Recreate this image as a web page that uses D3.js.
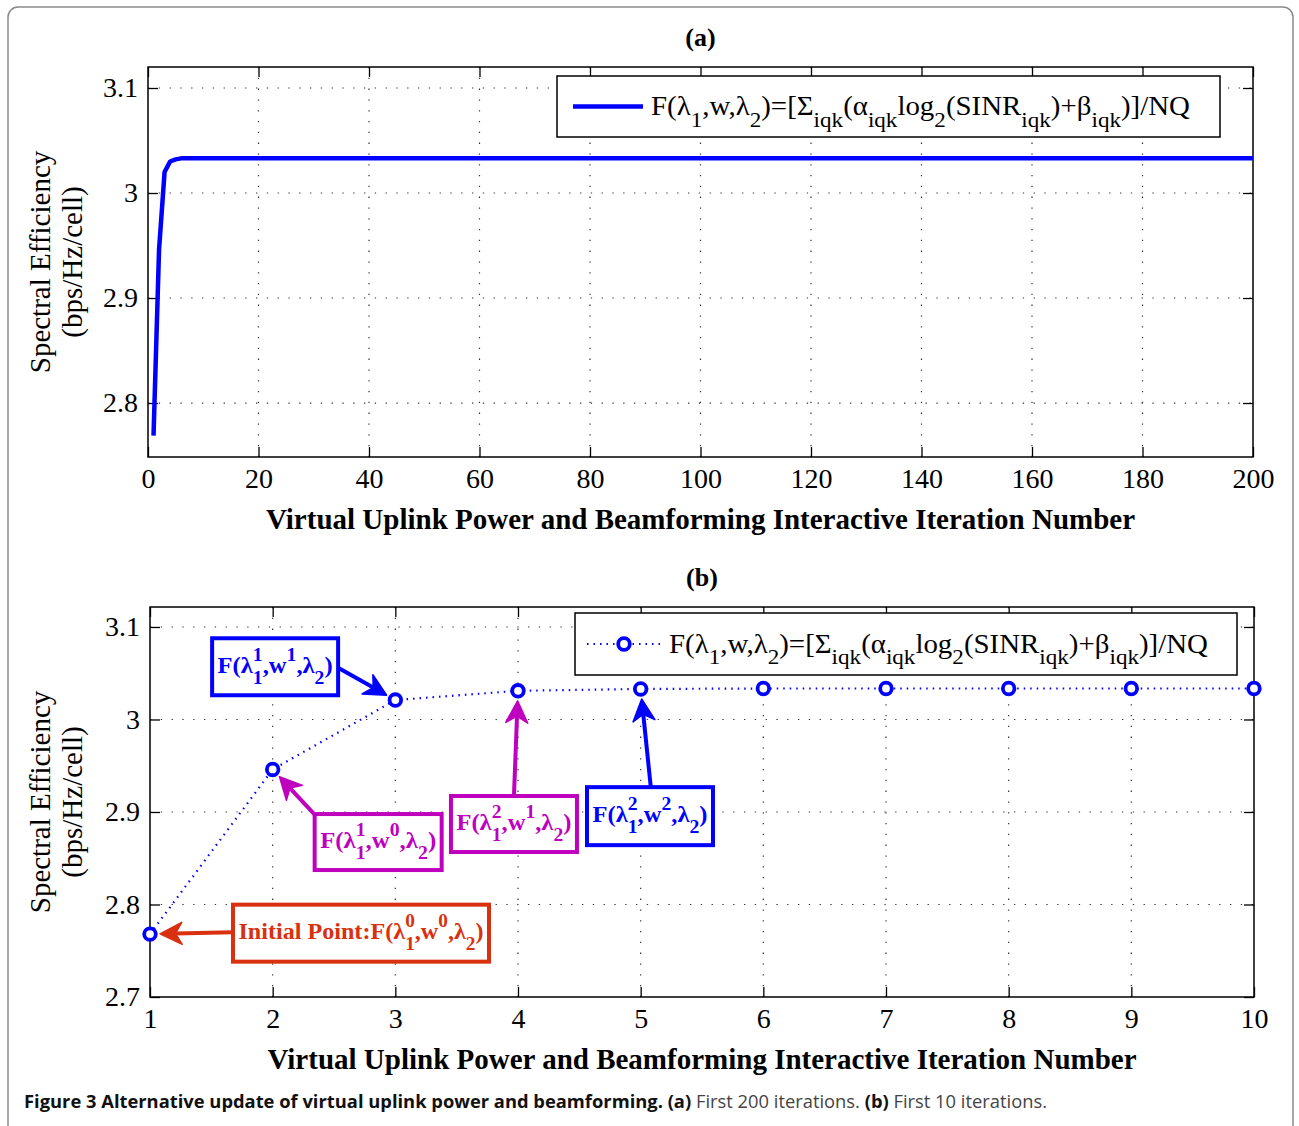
<!DOCTYPE html>
<html>
<head>
<meta charset="utf-8">
<script src="https://cdn.jsdelivr.net/npm/d3@7"></script>
<style>
  body { margin: 0; background: #fff; }
  svg { display: block; }
</style>
</head>
<body>
<div id="chart"></div>
<script>
// ---- data ----
const iterA = [1, 2, 3, 4, 5, 6, 200];
const seA = [2.769, 2.946, 3.020, 3.030, 3.032, 3.033, 3.033];
const xTicksA = [0, 20, 40, 60, 80, 100, 120, 140, 160, 180, 200];
const yTicksA = [2.8, 2.9, 3, 3.1];

const iterB = [1, 2, 3, 4, 5, 6, 7, 8, 9, 10];
const seB = [2.768, 2.946, 3.021, 3.031, 3.033, 3.0335, 3.0335, 3.0335, 3.0335, 3.0335];
const xTicksB = [1, 2, 3, 4, 5, 6, 7, 8, 9, 10];
const yTicksB = [2.7, 2.8, 2.9, 3, 3.1];

const xTitle = "Virtual Uplink Power and Beamforming Interactive Iteration Number";
const yTitle = ["Spectral Efficiency", "(bps/Hz/cell)"];

// legend formula, as [text, kind] pieces
const legendSegs = [["F(λ"], ["1", "sub"], [",w,λ"], ["2", "sub"], [")=[Σ"], ["iqk", "sub"], ["(α"], ["iqk", "sub"],
  ["log"], ["2", "sub"], ["(SINR"], ["iqk", "sub"], [")+β"], ["iqk", "sub"], [")]/NQ"]];

// annotations in panel (b): which point they point at
const notes = [
  { color: "#0000ff", target: 2, box: [2.02, 3.057], size: [126, 57],
    segs: [["F(λ"], ["1", "sup"], ["1", "under"], [",w"], ["1", "sup"], [",λ"], ["2", "sub"], [")"]],
    from: [63, 1] },
  { color: "#bf00bf", target: 1, box: [2.86, 2.8675], size: [127, 56],
    segs: [["F(λ"], ["1", "sup"], ["1", "under"], [",w"], ["0", "sup"], [",λ"], ["2", "sub"], [")"]],
    from: [-63, -27] },
  { color: "#bf00bf", target: 3, box: [3.967, 2.887], size: [126, 56],
    segs: [["F(λ"], ["2", "sup"], ["1", "under"], [",w"], ["1", "sup"], [",λ"], ["2", "sub"], [")"]],
    from: [0, -28] },
  { color: "#0000ff", target: 4, box: [5.076, 2.8955], size: [126, 58],
    segs: [["F(λ"], ["2", "sup"], ["1", "under"], [",w"], ["2", "sup"], [",λ"], ["2", "sub"], [")"]],
    from: [1, -27] },
  { color: "#d9300f", target: 0, box: [2.72, 2.769], size: [256, 57],
    segs: [["Initial Point:F(λ"], ["0", "sup"], ["1", "under"], [",w"], ["0", "sup"], [",λ"], ["2", "sub"], [")"]],
    from: [-128, -1] }
];

const W = 1299, H = 1126;
const serif = "Liberation Serif, serif";
const svg = d3.select("#chart").append("svg").attr("width", W).attr("height", H);

// outer frame
svg.append("rect").attr("x", 8).attr("y", 7).attr("width", 1285).attr("height", 1130)
  .attr("rx", 10).attr("fill", "none").attr("stroke", "#8a8a8a").attr("stroke-width", 1.5);

// sequential rich text with sub / superscripts, squeezed or stretched to fit a width
function richText(g, x, y, segs, size, attrs, fitWidth, shifts) {
  const [subDy, supDy] = shifts || [0.42, 0.4];
  const t = g.append("text").attr("x", x).attr("y", y)
    .style("font-family", serif).style("font-size", size + "px");
  Object.entries(attrs || {}).forEach(([k, v]) => t.style(k, v));
  let cx = x, supStart = x, supEnd = x;
  for (const [s, kind] of segs) {
    const small = kind ? size * 0.8 : size;
    let ty = y, tx = cx;
    if (kind === "sub") ty = y + size * subDy;
    if (kind === "sup") { ty = y - size * supDy; supStart = cx; }
    if (kind === "under") { ty = y + size * subDy; tx = supStart; }
    const ts = t.append("tspan").attr("x", tx).attr("y", ty).style("font-size", small + "px").text(s);
    const w = ts.node().getComputedTextLength();
    if (kind === "sup") { supEnd = cx + w; cx += w; }
    else if (kind === "under") { cx = Math.max(supEnd, tx + w); }
    else cx += w;
  }
  let width = cx - x;
  if (fitWidth) {
    t.attr("transform", `translate(${x},0) scale(${fitWidth / width},1) translate(${-x},0)`);
    width = fitWidth;
  }
  return { node: t, width };
}

function panel(cfg) {
  const { left, top, right, bottom } = cfg;
  const g = svg.append("g");
  const x = d3.scaleLinear().domain(cfg.xDomain).range([left, right]);
  const y = d3.scaleLinear().domain(cfg.yDomain).range([bottom, top]);

  // dotted grid
  g.selectAll(".gx").data(cfg.xTicks.filter(d => d !== cfg.xDomain[0] && d !== cfg.xDomain[1])).join("line")
    .attr("x1", d => x(d)).attr("x2", d => x(d)).attr("y1", top).attr("y2", bottom)
    .attr("stroke", "#333").attr("stroke-width", 1.2).attr("stroke-dasharray", "1.3,9.5");
  g.selectAll(".gy").data(cfg.yTicks.filter(d => d > cfg.yDomain[0])).join("line")
    .attr("y1", d => y(d)).attr("y2", d => y(d)).attr("x1", left).attr("x2", right)
    .attr("stroke", "#333").attr("stroke-width", 1.2).attr("stroke-dasharray", "1.3,9.5");

  // axes with inward ticks on all sides
  const axes = [
    g.append("g").attr("transform", `translate(0,${bottom})`)
      .call(d3.axisBottom(x).tickValues(cfg.xTicks).tickSize(-10).tickPadding(11).tickFormat(d3.format(""))),
    g.append("g").attr("transform", `translate(${left},0)`)
      .call(d3.axisLeft(y).tickValues(cfg.yTicks).tickSize(-10).tickPadding(10).tickFormat(d3.format(""))),
    g.append("g").attr("transform", `translate(0,${top})`)
      .call(d3.axisTop(x).tickValues(cfg.xTicks).tickSize(-10).tickFormat("")),
    g.append("g").attr("transform", `translate(${right},0)`)
      .call(d3.axisRight(y).tickValues(cfg.yTicks).tickSize(-10).tickFormat(""))
  ];
  axes.forEach(a => {
    a.select(".domain").remove();
    a.selectAll(".tick line").attr("stroke", "#000").attr("stroke-width", 1.3);
    a.selectAll(".tick text").attr("font-family", serif).attr("font-size", 28).attr("fill", "#000");
  });
  g.append("rect").attr("x", left).attr("y", top).attr("width", right - left).attr("height", bottom - top)
    .attr("fill", "none").attr("stroke", "#000").attr("stroke-width", 1.5);

  // titles
  g.append("text").attr("x", (left + right) / 2).attr("y", top - 21).attr("text-anchor", "middle")
    .style("font-family", serif).style("font-size", "26px").style("font-weight", "bold")
    .text(cfg.title);
  g.append("text").attr("x", (left + right) / 2).attr("y", bottom + 72).attr("text-anchor", "middle")
    .style("font-family", serif).style("font-size", "29px").style("font-weight", "bold")
    .text(xTitle);
  const cy = (top + bottom) / 2;
  yTitle.forEach((s, i) => {
    g.append("text").attr("transform", `translate(${50 + i * 32},${cy}) rotate(-90)`).attr("text-anchor", "middle")
      .style("font-family", serif).style("font-size", "29px").text(s);
  });
  return { g, x, y };
}

// ---- panel (a) ----
const pa = panel({ left: 148, top: 67, right: 1253, bottom: 457, xDomain: [0, 200], yDomain: [2.7486, 3.12],
  xTicks: xTicksA, yTicks: yTicksA, title: "(a)" });
pa.g.append("path").datum(iterA.map((d, i) => [d, seA[i]]))
  .attr("d", d3.line().x(d => pa.x(d[0])).y(d => pa.y(d[1])))
  .attr("fill", "none").attr("stroke", "#0000ff").attr("stroke-width", 4.5).attr("stroke-linejoin", "round");

function legendBox(p, bx, by, bw, bh, drawKey) {
  p.g.append("rect").attr("x", bx).attr("y", by).attr("width", bw).attr("height", bh)
    .attr("fill", "#fff").attr("stroke", "#000").attr("stroke-width", 1.5);
  drawKey(p.g, bx, by + bh / 2);
  richText(p.g, bx + 94, by + bh / 2 + 9, legendSegs, 27, null, 539);
}
legendBox(pa, 557, 76, 663, 61, (g, bx, my) => {
  g.append("line").attr("x1", bx + 16).attr("x2", bx + 86).attr("y1", my).attr("y2", my)
    .attr("stroke", "#0000ff").attr("stroke-width", 4.5);
});

// ---- panel (b) ----
const pb = panel({ left: 150, top: 607, right: 1254, bottom: 997, xDomain: [1, 10], yDomain: [2.7, 3.1216],
  xTicks: xTicksB, yTicks: yTicksB, title: "(b)" });
pb.g.append("path").datum(iterB.map((d, i) => [d, seB[i]]))
  .attr("d", d3.line().x(d => pb.x(d[0])).y(d => pb.y(d[1])))
  .attr("fill", "none").attr("stroke", "#0000ff").attr("stroke-width", 2.2).attr("stroke-dasharray", "1.5,5");
pb.g.selectAll(".pt").data(iterB.map((d, i) => [d, seB[i]])).join("circle")
  .attr("cx", d => pb.x(d[0])).attr("cy", d => pb.y(d[1])).attr("r", 5.8)
  .attr("fill", "#fff").attr("stroke", "#0000ff").attr("stroke-width", 3.8);

legendBox(pb, 575, 613, 662, 62, (g, bx, my) => {
  g.append("line").attr("x1", bx + 12).attr("x2", bx + 86).attr("y1", my).attr("y2", my)
    .attr("stroke", "#0000ff").attr("stroke-width", 2.2).attr("stroke-dasharray", "1.5,5");
  g.append("circle").attr("cx", bx + 49).attr("cy", my).attr("r", 5.8)
    .attr("fill", "#fff").attr("stroke", "#0000ff").attr("stroke-width", 3.8);
});

// annotations with arrows
function arrow(g, x1, y1, x2, y2, color) {
  const a = Math.atan2(y2 - y1, x2 - x1), L = 22, Wd = 11;
  const bx = x2 - L * Math.cos(a), by = y2 - L * Math.sin(a);
  const nx = -Math.sin(a), ny = Math.cos(a);
  const mx = x2 - L * 0.7 * Math.cos(a), my = y2 - L * 0.7 * Math.sin(a);
  g.append("line").attr("x1", x1).attr("y1", y1).attr("x2", mx).attr("y2", my)
    .attr("stroke", color).attr("stroke-width", 4);
  g.append("path").attr("d", `M${x2},${y2}L${bx + nx * Wd},${by + ny * Wd}L${mx},${my}L${bx - nx * Wd},${by - ny * Wd}Z`)
    .attr("fill", color).attr("stroke", color).attr("stroke-width", 1.5).attr("stroke-linejoin", "round");
}
notes.forEach(n => {
  const cx = pb.x(n.box[0]), cy = pb.y(n.box[1]);
  const [bw, bh] = n.size;
  const tx = pb.x(iterB[n.target]), ty = pb.y(seB[n.target]);
  const sx = cx + n.from[0], sy = cy + n.from[1];
  const d = Math.hypot(tx - sx, ty - sy);
  arrow(pb.g, sx, sy, tx - (tx - sx) / d * 10, ty - (ty - sy) / d * 10, n.color);
  pb.g.append("rect").attr("x", cx - bw / 2).attr("y", cy - bh / 2).attr("width", bw).attr("height", bh)
    .attr("fill", "#fff").attr("stroke", n.color).attr("stroke-width", 4);
  const tw = bw - 11;
  richText(pb.g, cx - tw / 2, cy + 6, n.segs, 24, { "font-weight": "bold", fill: n.color }, tw, [0.45, 0.5]);
});

// caption
const cap = svg.append("text").attr("x", 24).attr("y", 1108)
  .style("font-family", "Open Sans, sans-serif").style("font-size", "18px").style("fill", "#111")
  .attr("textLength", 1023).attr("lengthAdjust", "spacingAndGlyphs");
cap.append("tspan").style("font-weight", "bold").text("Figure 3 Alternative update of virtual uplink power and beamforming. (a)");
cap.append("tspan").style("fill", "#444").text(" First 200 iterations. ");
cap.append("tspan").style("font-weight", "bold").text("(b)");
cap.append("tspan").style("fill", "#444").text(" First 10 iterations.");
</script>
</body>
</html>
